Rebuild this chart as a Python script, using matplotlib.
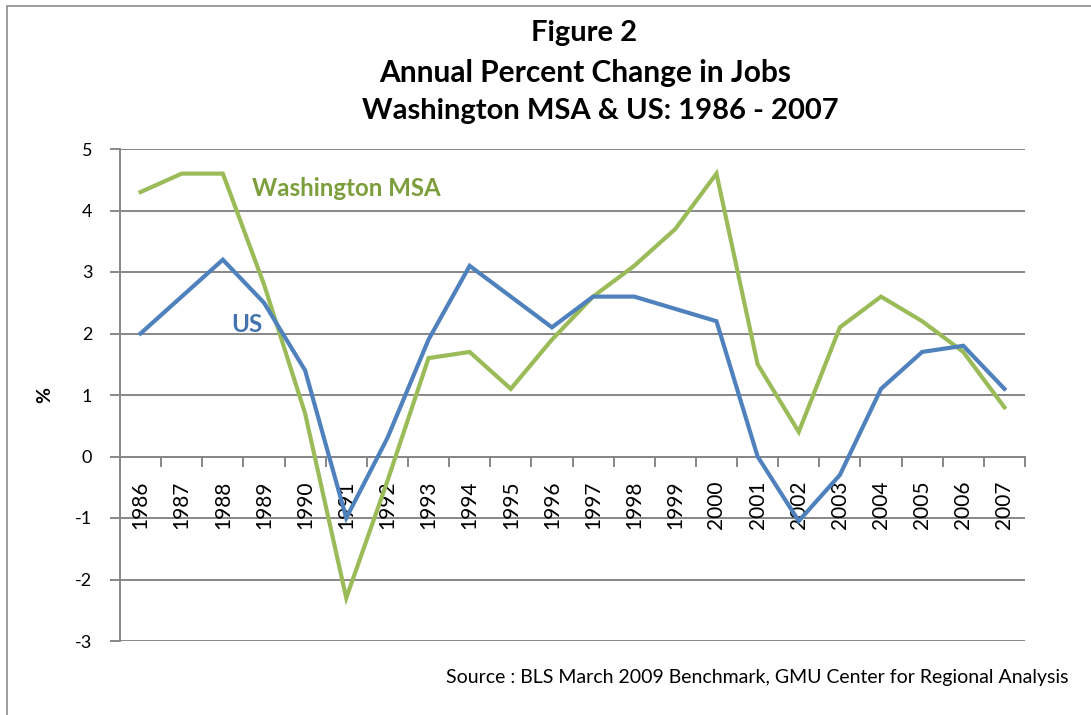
import matplotlib
matplotlib.use("Agg")
import matplotlib.pyplot as plt
from matplotlib.patches import Rectangle

plt.rcParams['font.family'] = ['Lato', 'DejaVu Sans']
plt.rcParams['axes.unicode_minus'] = False

years = ['1986', '1987', '1988', '1989', '1990', '1991', '1992', '1993', '1994', '1995', '1996',
         '1997', '1998', '1999', '2000', '2001', '2002', '2003', '2004', '2005', '2006', '2007']
washington_msa = [4.3, 4.6, 4.6, 2.8, 0.7, -2.3, -0.4, 1.6, 1.7, 1.1, 1.9,
                  2.6, 3.1, 3.7, 4.6, 1.5, 0.4, 2.1, 2.6, 2.2, 1.7, 0.8]
us = [2.0, 2.6, 3.2, 2.5, 1.4, -1.0, 0.3, 1.9, 3.1, 2.6, 2.1,
      2.6, 2.6, 2.4, 2.2, 0.0, -1.05, -0.3, 1.1, 1.7, 1.8, 1.1]
y_ticks = [5, 4, 3, 2, 1, 0, -1, -2, -3]

green = '#9BBB59'
blue = '#4F81BD'
grid_c = '#878787'

fig = plt.figure(figsize=(10.91, 7.15), dpi=100)
fig.patches.append(Rectangle((7/1091, -0.01), 1.1, 1 - 6/715 + 0.01, transform=fig.transFigure,
                             fill=False, edgecolor='#8c8c8c', linewidth=1.2))
ax = fig.add_axes([120/1091, 1 - 641/715, (1025 - 120)/1091, (641 - 149)/715])

x = list(range(len(years)))
ax.plot(x, washington_msa, color=green, linewidth=3.0, solid_joinstyle='miter', zorder=3)
ax.plot(x, us, color=blue, linewidth=3.0, solid_joinstyle='miter', zorder=4)

ax.set_xlim(-0.5, len(years) - 0.5)
ax.set_ylim(-3, 5)
ax.set_yticks(y_ticks)
ax.set_yticklabels([str(v) for v in y_ticks], fontsize=13)
ax.yaxis.grid(True, color=grid_c, linewidth=1.4)
ax.set_axisbelow(True)
ax.tick_params(axis='y', length=7, width=1.4, color=grid_c, pad=13)

for s in ['top', 'right']:
    ax.spines[s].set_visible(False)
ax.spines['left'].set_color(grid_c)
ax.spines['left'].set_linewidth(1.4)
ax.spines['bottom'].set_position(('data', 0))
ax.spines['bottom'].set_color(grid_c)
ax.spines['bottom'].set_linewidth(1.4)

ax.set_xticks([i - 0.5 for i in range(len(years) + 1)])
ax.set_xticklabels([])
ax.tick_params(axis='x', which='major', length=7, width=1.4, color=grid_c, direction='out')

# category labels, rotated, hanging below the zero line
for i, yr in enumerate(years):
    ax.annotate(yr, xy=(i, 0), xycoords='data', xytext=(0, -24), textcoords='offset pixels',
                rotation=90, ha='center', va='top', fontsize=15, zorder=2)

fig.text(45/1091, 1 - 395/715, '%', fontsize=14, fontweight='bold', rotation=90,
         ha='center', va='center')

fig.text(252/1091, 1 - 189/715, 'Washington MSA', fontsize=17.3, fontweight='bold', color='#7d9e3c',
         va='center', ha='left')
fig.text(231/1091, 1 - 324/715, 'US', fontsize=17.5, fontweight='bold', color='#4473b0',
         va='center', ha='left')

fig.text(584/1091, 1 - 33/715, 'Figure 2', fontsize=21, fontweight='bold', ha='center', va='center')
fig.text(585/1091, 1 - 73/715, 'Annual Percent Change in Jobs', fontsize=21.5, fontweight='bold',
         ha='center', va='center')
fig.text(600/1091, 1 - 111/715, 'Washington MSA & US: 1986 - 2007', fontsize=21, fontweight='bold',
         ha='center', va='center')

fig.text(1068/1091, 1 - 677/715, 'Source : BLS March 2009 Benchmark, GMU Center for Regional Analysis',
         fontsize=14, ha='right', va='center')

fig.savefig('out.png', dpi=100)
